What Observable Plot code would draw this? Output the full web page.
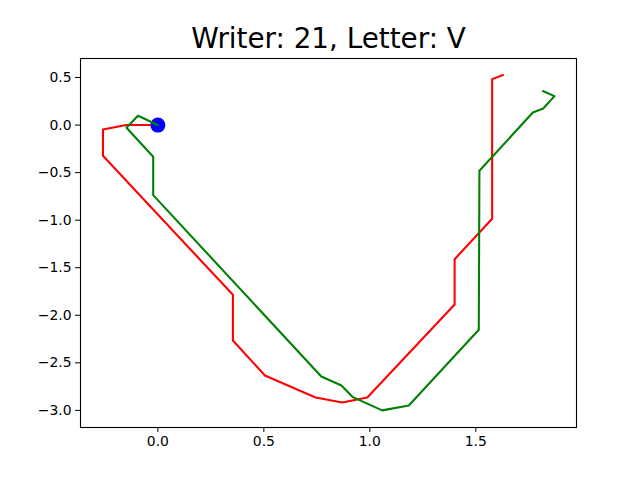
<!DOCTYPE html>
<html>
<head>
<meta charset="utf-8">
<script src="https://cdn.jsdelivr.net/npm/d3@7"></script>
<script src="https://cdn.jsdelivr.net/npm/@observablehq/plot@0.6"></script>
<style>
  html, body { margin: 0; padding: 0; background: #fff; }
  #chart svg { display: block; }
</style>
</head>
<body>
<div id="chart"></div>
<script>
const titleText = "Writer: 21, Letter: V";

const redX = [0, -0.149, -0.259, -0.259, 0.354, 0.354, 0.505, 0.744, 0.870, 0.988, 1.400, 1.400, 1.577, 1.577, 1.627];
const redY = [0, 0.0, -0.046, -0.323, -1.785, -2.265, -2.633, -2.864, -2.917, -2.864, -1.886, -1.410, -0.985, 0.483, 0.525];

const greenX = [0, -0.094, -0.148, -0.022, -0.022, 0.771, 0.866, 0.920, 1.058, 1.184, 1.514, 1.517, 1.769, 1.818, 1.871, 1.818];
const greenY = [0, 0.098, -0.028, -0.333, -0.737, -2.643, -2.738, -2.861, -3.0, -2.948, -2.152, -0.481, 0.132, 0.175, 0.304, 0.356];

const startX = [0];
const startY = [0];

const xTicks = [0, 0.5, 1.0, 1.5];
const yTicks = [0.5, 0, -0.5, -1.0, -1.5, -2.0, -2.5, -3.0];

const fmt = d3.format(".1f");

const chart = Plot.plot({
  width: 640,
  height: 480,
  marginLeft: 80,
  marginRight: 64,
  marginTop: 58,
  marginBottom: 53,
  style: { fontFamily: "DejaVu Sans", fontSize: "13.9px", color: "black", background: "white" },
  x: { domain: [-0.365, 1.975], ticks: xTicks, tickFormat: fmt, label: null },
  y: { domain: [-3.18, 0.70], ticks: yTicks, tickFormat: fmt, label: null },
  marks: [
    Plot.line(redY, { x: redX, y: redY, stroke: "#ff0000", strokeWidth: 2.08, strokeLinejoin: "round", strokeLinecap: "square" }),
    Plot.dot(startY, { x: startX, y: startY, r: 7.5, fill: "#0000ff", stroke: "none" }),
    Plot.line(greenY, { x: greenX, y: greenY, stroke: "#008000", strokeWidth: 2.08, strokeLinejoin: "round", strokeLinecap: "square" }),
    Plot.frame({ stroke: "black", strokeWidth: 1.1 }),
    Plot.axisX({ ticks: xTicks, tickFormat: fmt, tickSize: 5, tickPadding: 4, fontSize: 13.9, label: null }),
    Plot.axisY({ ticks: yTicks, tickFormat: fmt, tickSize: 5, tickPadding: 4, fontSize: 13.9, label: null }),
    Plot.text([titleText], { frameAnchor: "top", text: d => d, dy: -19, lineAnchor: "middle", fontSize: 27.8, fill: "black" })
  ]
});

document.getElementById("chart").appendChild(chart);
</script>
</body>
</html>
